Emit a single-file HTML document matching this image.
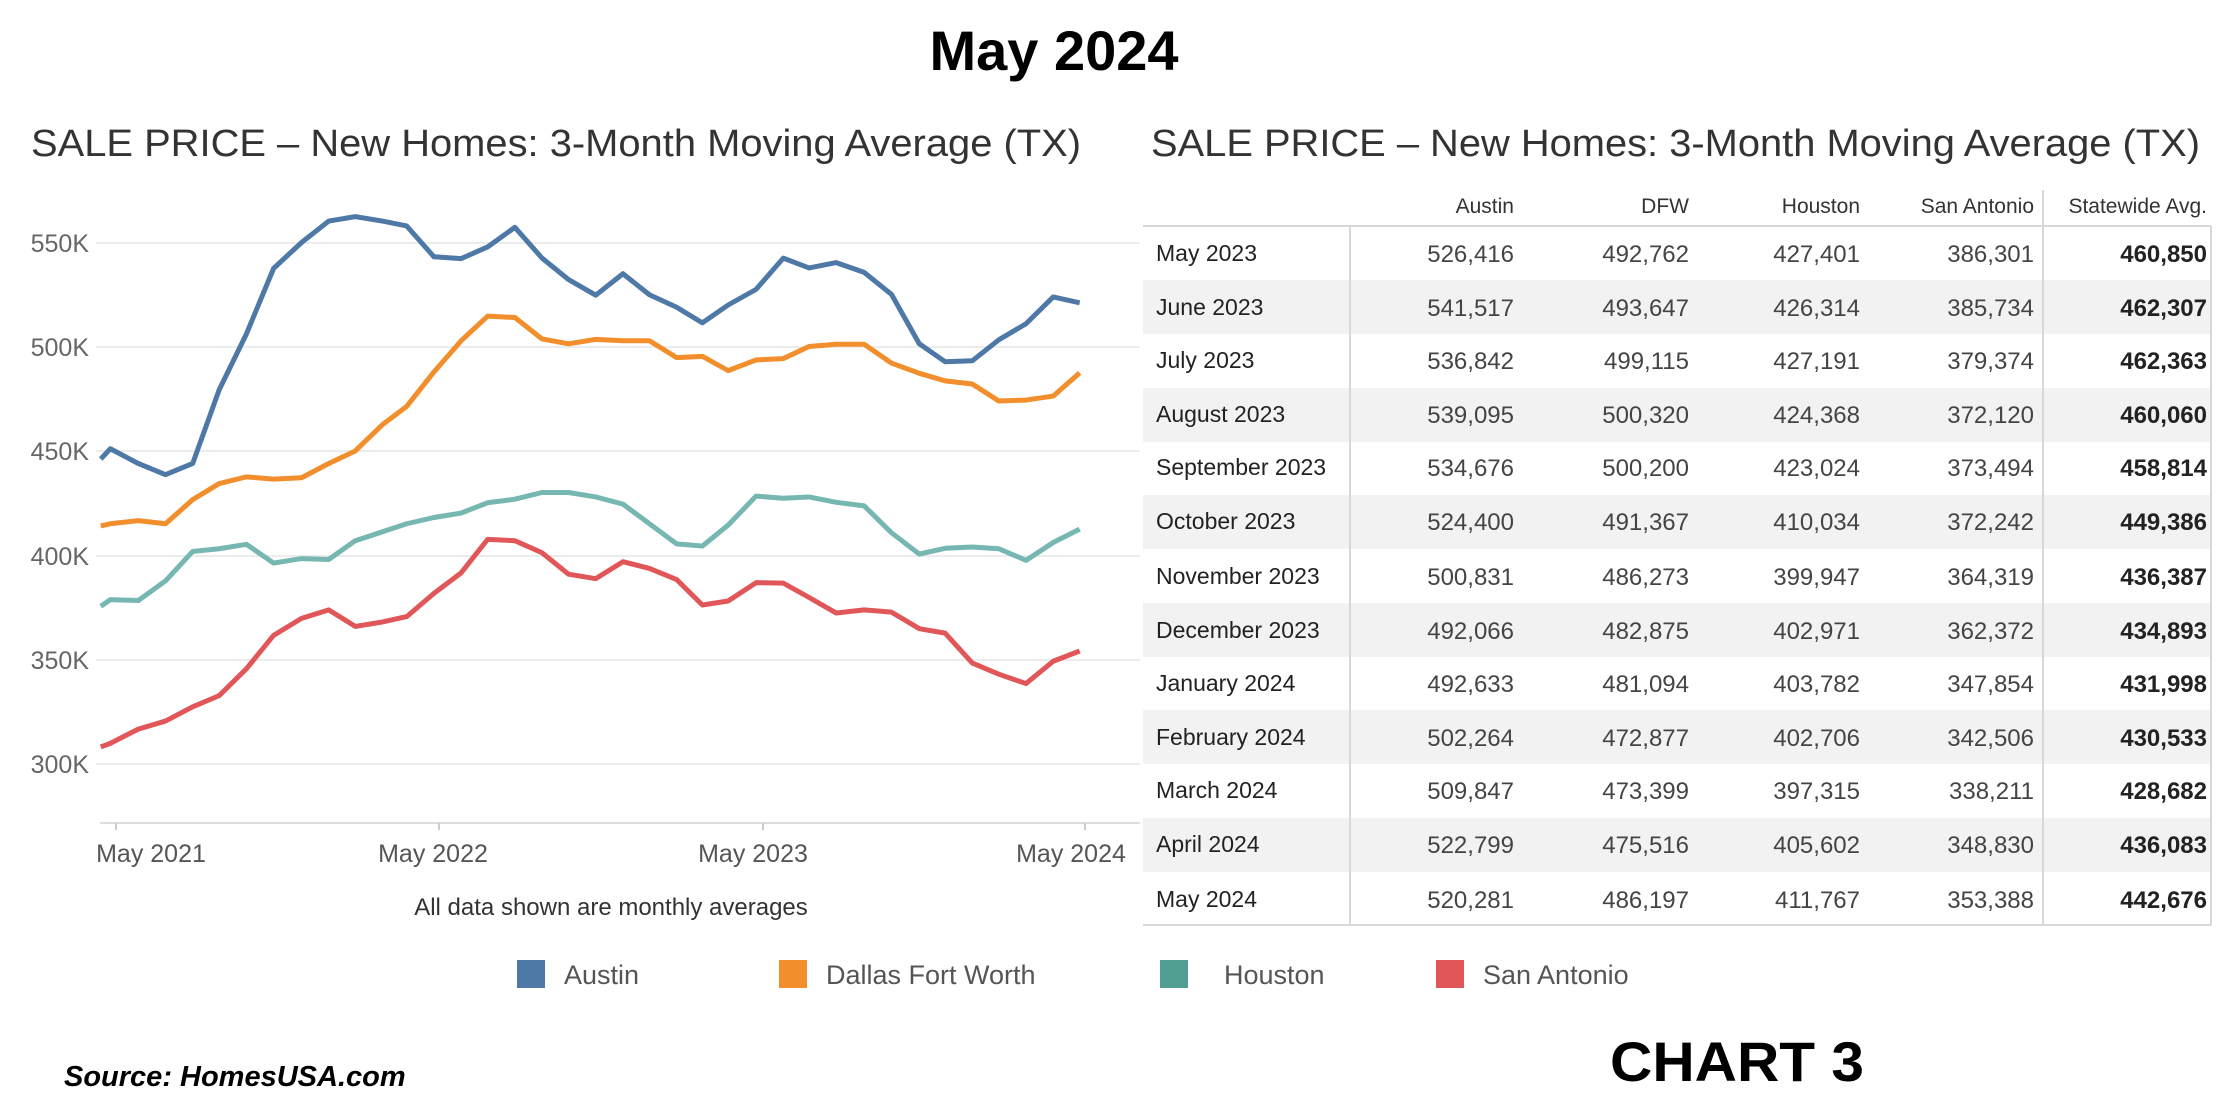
<!DOCTYPE html>
<html><head><meta charset="utf-8"><style>html,body{margin:0;padding:0;background:#fff}svg{display:block}</style></head><body>
<svg width="2240" height="1107" xmlns="http://www.w3.org/2000/svg" font-family="Liberation Sans, sans-serif">
<rect width="2240" height="1107" fill="#fff"/>
<text x="1054" y="70" font-size="56" font-weight="bold" text-anchor="middle" fill="#000">May 2024</text>
<text x="31" y="156" font-size="38" fill="#333" textLength="1050" lengthAdjust="spacingAndGlyphs">SALE PRICE – New Homes: 3-Month Moving Average (TX)</text>
<text x="1151" y="156" font-size="38" fill="#333" textLength="1049" lengthAdjust="spacingAndGlyphs">SALE PRICE – New Homes: 3-Month Moving Average (TX)</text>
<g stroke="#ececec" stroke-width="2">
<line x1="96" x2="1140" y1="243" y2="243"/><line x1="96" x2="1140" y1="347" y2="347"/><line x1="96" x2="1140" y1="451" y2="451"/><line x1="96" x2="1140" y1="556" y2="556"/><line x1="96" x2="1140" y1="660" y2="660"/><line x1="96" x2="1140" y1="764" y2="764"/>
<line x1="100" x2="1140" y1="823" y2="823" stroke="#ddd"/>
</g>
<g stroke="#ccc" stroke-width="2"><line x1="116" x2="116" y1="823" y2="830"/><line x1="439" x2="439" y1="823" y2="830"/><line x1="763" x2="763" y1="823" y2="830"/><line x1="1085" x2="1085" y1="823" y2="830"/></g>
<g font-size="25" fill="#666" text-anchor="end">
<text x="89" y="252">550K</text><text x="89" y="356">500K</text><text x="89" y="460">450K</text><text x="89" y="565">400K</text><text x="89" y="669">350K</text><text x="89" y="773">300K</text>
</g>
<g font-size="25" fill="#555" text-anchor="middle">
<text x="151" y="862">May 2021</text><text x="433" y="862">May 2022</text><text x="753" y="862">May 2023</text><text x="1071" y="862">May 2024</text>
</g>
<svg x="0" y="180" width="1140" height="700" viewBox="0 0 1550 1568" preserveAspectRatio="none">
<g fill="none" stroke-width="5" stroke-linejoin="round" vector-effect="non-scaling-stroke">
<polyline vector-effect="non-scaling-stroke" stroke="#4e79a7" stroke-width="5" points="137,625 150,602 188,635 225,660 262,635 298,470 335,345 372,198 410,140 447,92 483,82 520,92 553,103 590,172 627,176 663,150 700,106 737,175 773,223 810,258 847,210 883,257 920,285 955,320 990,280 1028,245 1065,175 1100,197 1137,185 1175,207 1212,256 1250,367 1285,407 1322,405 1358,358 1395,322 1432,262 1468,275"/>
<polyline vector-effect="non-scaling-stroke" stroke="#f28e2b" stroke-width="5" points="137,775 150,770 188,763 225,770 262,716 298,680 335,665 372,670 410,667 447,635 483,607 520,548 553,507 590,430 627,360 663,305 700,308 737,356 773,367 810,357 847,360 883,360 920,398 955,395 990,427 1028,403 1065,400 1100,373 1137,368 1175,368 1212,410 1250,433 1285,450 1322,457 1358,495 1395,493 1432,484 1468,432"/>
<polyline vector-effect="non-scaling-stroke" stroke="#76b7b2" stroke-width="5" points="137,955 150,940 188,942 225,898 262,832 298,826 335,816 372,858 410,848 447,850 483,808 520,788 553,770 590,756 627,746 663,723 700,715 737,700 773,700 810,710 847,726 883,770 920,815 955,820 990,773 1028,708 1065,713 1100,710 1137,722 1175,730 1212,790 1250,838 1285,825 1322,822 1358,826 1395,852 1432,812 1468,782"/>
<polyline vector-effect="non-scaling-stroke" stroke="#e15759" stroke-width="5" points="137,1270 150,1262 188,1230 225,1212 262,1180 298,1155 335,1095 372,1020 410,982 447,963 483,1000 520,990 553,978 590,926 627,880 663,805 700,808 737,835 773,883 810,893 847,855 883,870 920,895 955,952 990,943 1028,902 1065,903 1100,935 1137,970 1175,963 1212,968 1250,1005 1285,1015 1322,1082 1358,1107 1395,1128 1432,1078 1468,1055"/>
</g>
</svg>
<text x="611" y="915" font-size="24" fill="#333" text-anchor="middle">All data shown are monthly averages</text>
<!-- table -->
<g fill="#f2f2f2">
<rect x="1143" y="280" width="1068" height="54"/><rect x="1143" y="388" width="1068" height="54"/><rect x="1143" y="495" width="1068" height="54"/><rect x="1143" y="603" width="1068" height="54"/><rect x="1143" y="710" width="1068" height="54"/><rect x="1143" y="818" width="1068" height="54"/>
</g>
<g stroke="#d8d8d8" stroke-width="2">
<line x1="1143" x2="2211" y1="226" y2="226"/><line x1="1143" x2="2211" y1="925" y2="925"/>
<line x1="1350" x2="1350" y1="226" y2="925"/><line x1="2043" x2="2043" y1="190" y2="925"/><line x1="2211" x2="2211" y1="226" y2="925"/>
</g>
<g font-size="21" fill="#333" text-anchor="end">
<text x="1514" y="213">Austin</text><text x="1689" y="213">DFW</text><text x="1860" y="213">Houston</text><text x="2034" y="213">San Antonio</text><text x="2207" y="213">Statewide Avg.</text>
</g>
<g font-size="23" fill="#222">
<text x="1156" y="261">May 2023</text><text x="1156" y="315">June 2023</text><text x="1156" y="368">July 2023</text><text x="1156" y="422">August 2023</text><text x="1156" y="475">September 2023</text><text x="1156" y="529">October 2023</text><text x="1156" y="584">November 2023</text><text x="1156" y="638">December 2023</text><text x="1156" y="691">January 2024</text><text x="1156" y="745">February 2024</text><text x="1156" y="798">March 2024</text><text x="1156" y="852">April 2024</text><text x="1156" y="907">May 2024</text>
</g>
<g font-size="24" fill="#444" text-anchor="end">
<text x="1514" y="262">526,416</text><text x="1689" y="262">492,762</text><text x="1860" y="262">427,401</text><text x="2034" y="262">386,301</text>
<text x="1514" y="316">541,517</text><text x="1689" y="316">493,647</text><text x="1860" y="316">426,314</text><text x="2034" y="316">385,734</text>
<text x="1514" y="369">536,842</text><text x="1689" y="369">499,115</text><text x="1860" y="369">427,191</text><text x="2034" y="369">379,374</text>
<text x="1514" y="423">539,095</text><text x="1689" y="423">500,320</text><text x="1860" y="423">424,368</text><text x="2034" y="423">372,120</text>
<text x="1514" y="476">534,676</text><text x="1689" y="476">500,200</text><text x="1860" y="476">423,024</text><text x="2034" y="476">373,494</text>
<text x="1514" y="530">524,400</text><text x="1689" y="530">491,367</text><text x="1860" y="530">410,034</text><text x="2034" y="530">372,242</text>
<text x="1514" y="585">500,831</text><text x="1689" y="585">486,273</text><text x="1860" y="585">399,947</text><text x="2034" y="585">364,319</text>
<text x="1514" y="639">492,066</text><text x="1689" y="639">482,875</text><text x="1860" y="639">402,971</text><text x="2034" y="639">362,372</text>
<text x="1514" y="692">492,633</text><text x="1689" y="692">481,094</text><text x="1860" y="692">403,782</text><text x="2034" y="692">347,854</text>
<text x="1514" y="746">502,264</text><text x="1689" y="746">472,877</text><text x="1860" y="746">402,706</text><text x="2034" y="746">342,506</text>
<text x="1514" y="799">509,847</text><text x="1689" y="799">473,399</text><text x="1860" y="799">397,315</text><text x="2034" y="799">338,211</text>
<text x="1514" y="853">522,799</text><text x="1689" y="853">475,516</text><text x="1860" y="853">405,602</text><text x="2034" y="853">348,830</text>
<text x="1514" y="908">520,281</text><text x="1689" y="908">486,197</text><text x="1860" y="908">411,767</text><text x="2034" y="908">353,388</text>
</g>
<g font-size="24" fill="#222" font-weight="bold" text-anchor="end">
<text x="2207" y="262">460,850</text><text x="2207" y="316">462,307</text><text x="2207" y="369">462,363</text><text x="2207" y="423">460,060</text><text x="2207" y="476">458,814</text><text x="2207" y="530">449,386</text><text x="2207" y="585">436,387</text><text x="2207" y="639">434,893</text><text x="2207" y="692">431,998</text><text x="2207" y="746">430,533</text><text x="2207" y="799">428,682</text><text x="2207" y="853">436,083</text><text x="2207" y="908">442,676</text>
</g>
<!-- legend -->
<rect x="517" y="960" width="28" height="28" fill="#4e79a7"/>
<rect x="779" y="960" width="28" height="28" fill="#f28e2b"/>
<rect x="1160" y="960" width="28" height="28" fill="#4f9e91"/>
<rect x="1436" y="960" width="28" height="28" fill="#e15759"/>
<g font-size="27" fill="#555">
<text x="564" y="984">Austin</text><text x="826" y="984">Dallas Fort Worth</text><text x="1224" y="984">Houston</text><text x="1483" y="984">San Antonio</text>
</g>
<text x="64" y="1086" font-size="29" font-weight="bold" font-style="italic" fill="#000">Source:  HomesUSA.com</text>
<text x="1610" y="1081" font-size="56" font-weight="bold" fill="#000" textLength="254" lengthAdjust="spacingAndGlyphs">CHART 3</text>
</svg>
</body></html>
